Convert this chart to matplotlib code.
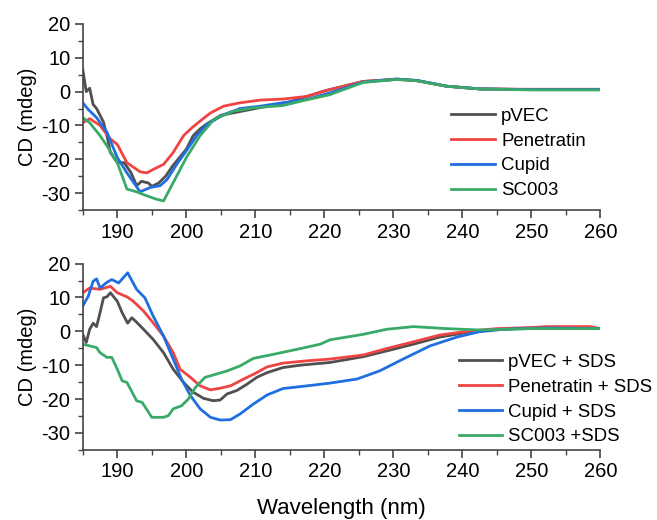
import numpy as np
import matplotlib.pyplot as plt
from matplotlib.ticker import MultipleLocator

plt.rcParams['font.family'] = ['Liberation Sans', 'DejaVu Sans']
plt.rcParams['axes.unicode_minus'] = False

# ---------------- data ----------------
# top panel: peptides in buffer
wl_pvec = [185, 185.5, 186, 186.5, 187, 187.5, 188, 188.5, 189, 190, 191, 192, 192.8, 193.5,
           194.5, 195, 196, 197, 198, 200, 201, 202, 203, 205, 210, 215, 220, 225.6, 230.5,
           233.4, 237.7, 242.5, 249.8, 260]
cd_pvec = [6.5, 0, 1, -3.8, -5, -7, -9, -13, -18, -21, -21, -24, -27.8, -26.5,
           -27, -28, -27, -25, -22, -17, -13, -11, -9.5, -7, -5, -3, 0.2, 3, 3.7,
           3.3, 1.6, 0.8, 0.6, 0.6]

wl_pen = [185, 186, 187.5, 189, 190, 191.4, 193.3, 194.3, 195.2, 196.7, 198.1, 199.6, 200.8,
          202, 203.5, 205.4, 207.8, 210.7, 214, 217.5, 220.8, 225.6, 230.5, 233.4, 237.7,
          242.5, 249.8, 260]
cd_pen = [-9.2, -8, -10, -14, -15.6, -21, -23.7, -24, -23, -21.5, -18, -13, -10.7,
          -8.7, -6.3, -4.3, -3.3, -2.5, -2.2, -1.4, 0.6, 3, 3.6, 3.2, 1.6,
          0.8, 0.7, 0.7]

wl_cup = [185, 185.8, 187, 188.5, 190, 191.4, 193.3, 194.8, 196.2, 197.2, 198.6, 200, 201.5,
          203, 205.4, 207.8, 210.7, 214, 217.5, 220.8, 225.6, 230.5, 233.4, 237.7, 242.5,
          249.8, 260]
cd_cup = [-3.3, -5.3, -7.7, -12, -19.5, -24, -29.6, -28.3, -27.8, -26, -21.5, -17.5, -13,
          -9.7, -6.8, -5, -4.3, -3.3, -2.3, -0.4, 2.8, 3.7, 3.3, 1.6, 0.8,
          0.6, 0.6]

wl_sc = [185, 186, 187.5, 188.5, 190, 191.4, 192.8, 194.3, 195.7, 196.7, 198.1, 200, 202,
         204, 206.8, 209.7, 214, 217.5, 220.8, 225.6, 230.5, 233.4, 237.7, 242.5, 249.8, 260]
cd_sc = [-7.7, -9.2, -13, -16, -21, -28.8, -29.6, -30.8, -31.8, -32.3, -26.9, -19.5, -13,
         -8.2, -5.8, -4.8, -4.1, -2.4, -0.9, 2.7, 3.6, 3.2, 1.6, 0.8, 0.5, 0.5]

# bottom panel: peptides + SDS
wl_pvec_sds = [185, 185.5, 186, 186.5, 187, 187.5, 188, 188.5, 189, 190, 190.7, 191.5, 192.1,
               192.8, 193.8, 195.2, 196.7, 198.1, 199.6, 201, 202.5, 203.9, 204.9, 205.9,
               207.3, 208.8, 210.2, 211.7, 214, 216.5, 220.8, 225.6, 229, 232.9, 236.7,
               241.1, 245, 249.8, 260]
cd_pvec_sds = [-0.9, -3.3, 0.6, 2.4, 1.4, 5.5, 9.9, 10.2, 11.4, 8.9, 5.5, 2.4, 4,
               2.7, 0.6, -2.4, -6.3, -11.2, -15.1, -18, -19.8, -20.5, -20.3, -18.5,
               -17.5, -15.6, -13.6, -12.2, -10.7, -10, -9.2, -7.5, -5.8, -3.8, -1.7,
               -0.2, 0.6, 1, 0.8]

wl_pen_sds = [185, 186, 187.5, 189, 190, 191.4, 192.3, 193.8, 195.2, 196.7, 198.1, 199.1,
              200.6, 202, 203.5, 204.9, 206.4, 208.3, 210.2, 211.7, 214, 217.5, 220.8,
              225.6, 229, 232.9, 236.7, 241.1, 245, 249.8, 252.2, 258.5, 260]
cd_pen_sds = [11.4, 12.8, 12.4, 13.3, 11.4, 10.2, 8.9, 6, 2.5, -1.4, -6.3, -11.2,
              -13.6, -16.1, -17.3, -16.8, -16.1, -14.1, -12.2, -10.5, -9.4, -8.7, -8.2,
              -7, -5.1, -3.1, -1.1, 0.1, 0.8, 1.1, 1.4, 1.4, 0.8]

wl_cup_sds = [185, 185.8, 186.5, 187, 187.5, 188.5, 189.2, 190.2, 191.5, 192.8, 194, 195.2,
              196.7, 198.1, 199.3, 200.6, 202, 203.5, 204.9, 206.4, 207.8, 209.7, 211.7,
              214, 217.5, 220.8, 224.7, 228, 231.4, 235.3, 239.2, 242.5, 246, 252, 260]
cd_cup_sds = [7.5, 10.4, 14.8, 15.5, 12.8, 14.5, 15.3, 14.3, 17.3, 12.4, 9.9, 4.5,
              -1.4, -8.2, -14.1, -19, -22.9, -25.4, -26.2, -26.1, -24.4, -21.5, -18.8,
              -16.9, -16.1, -15.3, -14.1, -11.7, -8.2, -4.3, -1.7, -0.1, 0.6, 1, 0.8]

wl_sc_sds = [185, 187, 187.5, 188.5, 189.2, 190, 190.7, 191.4, 192.8, 193.6, 195, 196.7,
             197.4, 198.1, 199.3, 200.3, 201.3, 202.7, 203.9, 205.9, 207.8, 209.7, 212.6,
             216.5, 219.4, 220.8, 225.6, 229, 232.9, 237.7, 242.5, 249.8, 260]
cd_sc_sds = [-3.8, -4.8, -6.3, -7.7, -7.7, -11.2, -14.6, -15.1, -20.5, -21, -25.4, -25.4,
             -24.9, -22.9, -22, -20, -16.6, -13.6, -12.9, -11.7, -10.2, -8, -6.8,
             -5.1, -3.8, -2.5, -0.9, 0.6, 1.4, 0.8, 0.4, 0.8, 0.8]

colors = ['#505050', '#ef4444', '#1f6fe0', '#3aaa68']
labels_top = ['pVEC', 'Penetratin', 'Cupid', 'SC003']
labels_bot = ['pVEC + SDS', 'Penetratin + SDS', 'Cupid + SDS', 'SC003 +SDS']

top_series = [(wl_pvec, cd_pvec), (wl_pen, cd_pen), (wl_cup, cd_cup), (wl_sc, cd_sc)]
bot_series = [(wl_pvec_sds, cd_pvec_sds), (wl_pen_sds, cd_pen_sds),
              (wl_cup_sds, cd_cup_sds), (wl_sc_sds, cd_sc_sds)]

# ---------------- plotting ----------------
fig = plt.figure(figsize=(6.57, 5.2), dpi=100)
ax1 = fig.add_axes([0.126, 0.596, 0.788, 0.358])
ax2 = fig.add_axes([0.126, 0.135, 0.788, 0.358])


def style_axis(ax):
    ax.set_xlim(185, 260)
    ax.set_ylim(-35, 20)
    ax.xaxis.set_minor_locator(MultipleLocator(5))
    ax.yaxis.set_minor_locator(MultipleLocator(5))
    ax.set_xticks(range(190, 261, 10))
    ax.set_yticks(range(-30, 21, 10))
    ax.spines['top'].set_visible(False)
    ax.spines['right'].set_visible(False)
    for s in ['left', 'bottom']:
        ax.spines[s].set_color('#444444')
        ax.spines[s].set_linewidth(1.2)
    ax.tick_params(which='major', direction='out', length=6, width=1.2, color='#444444',
                   labelsize=14.5, pad=3)
    ax.tick_params(which='minor', direction='out', length=3.5, width=1.0, color='#444444')
    ax.set_ylabel('CD (mdeg)', fontsize=14.5, labelpad=3)


for ax, series, labels, anchor in [(ax1, top_series, labels_top, (0.712, 0.55)),
                                    (ax2, bot_series, labels_bot, (0.726, 0.515))]:
    for (x, y), c, lab in zip(series, colors, labels):
        ax.plot(x, y, color=c, lw=2, label=lab)
    style_axis(ax)
    ax.legend(loc='upper left', bbox_to_anchor=anchor, frameon=False, fontsize=13.4,
              borderpad=0, borderaxespad=0, handlelength=2.35, handletextpad=0.32,
              labelspacing=0.42)

ax2.set_xlabel('Wavelength (nm)', fontsize=16, labelpad=12)

fig.savefig('out.png', dpi=100)
